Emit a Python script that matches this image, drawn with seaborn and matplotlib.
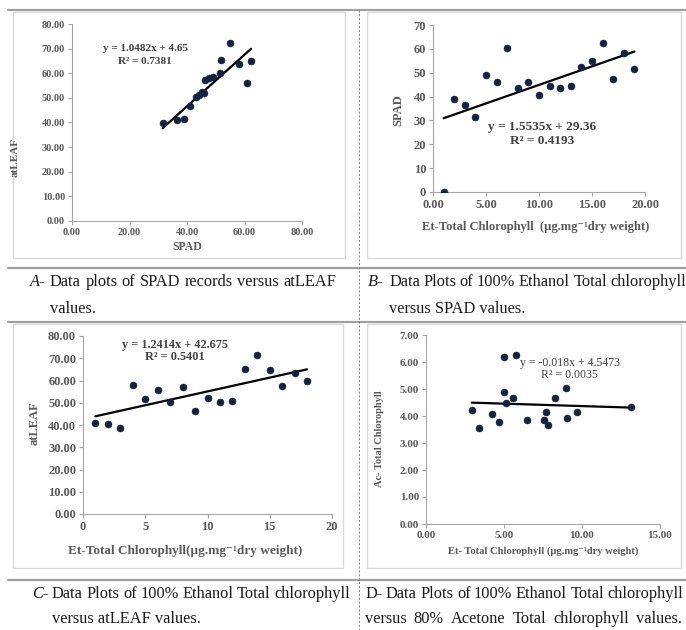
"""
Four-panel chlorophyll meter comparison (SPAD, atLEAF, ethanol / acetone extracts)
Scatter plots with linear trendlines, laid out like a two-column document table.
"""

import matplotlib
matplotlib.use("Agg")
import matplotlib.pyplot as plt
import seaborn as sns
import numpy as np
from matplotlib.patches import Rectangle
from matplotlib.ticker import StrMethodFormatter, MultipleLocator

# ---------- DATA ----------
# A - SPAD vs atLEAF
spad_a = [31.5, 36.5, 39.1, 40.9, 43.2, 44.3, 45.2, 46.0, 46.3, 47.5, 49.0,
          51.6, 51.8, 55.1, 58.1, 60.9, 62.3]
atleaf_a = [39.6, 41.0, 41.5, 46.8, 50.4, 51.1, 52.5, 52.1, 57.2, 58.0, 58.6,
            59.9, 65.4, 72.1, 63.6, 56.1, 65.0]
fit_a = (1.0482, 4.65)
eq_a = ["y = 1.0482x + 4.65", "R² = 0.7381"]

# B - Et total chlorophyll vs SPAD
et_b = [1, 2, 3, 4, 5, 6, 7, 8, 9, 10, 11, 12, 13, 14, 15, 16, 17, 18, 19]
spad_b = [0.0, 38.8, 36.4, 31.5, 49.0, 46.2, 60.5, 43.4, 46.2, 40.6, 44.4,
          43.8, 44.4, 52.2, 54.9, 62.3, 47.5, 58.1, 51.6]
fit_b = (1.5535, 29.36)
eq_b = ["y = 1.5535x + 29.36", "R² = 0.4193"]

# C - Et total chlorophyll vs atLEAF
et_c = [1, 2, 3, 4, 5, 6, 7, 8, 9, 10, 11, 12, 13, 14, 15, 16, 17, 18]
atleaf_c = [40.7, 40.3, 38.8, 58.1, 51.7, 55.6, 50.3, 57.1, 46.3, 52.3, 50.3,
            50.8, 65.0, 71.5, 64.6, 57.5, 63.2, 59.6]
fit_c = (1.2414, 42.675)
eq_c = ["y = 1.2414x + 42.675", "R² = 0.5401"]

# D - Et total chlorophyll vs Ac total chlorophyll
et_d = [2.93, 3.42, 4.25, 4.68, 5.02, 5.02, 5.11, 5.58, 5.79, 6.45, 7.56,
        7.69, 7.84, 8.27, 8.97, 9.04, 9.66, 13.14]
ac_d = [4.23, 3.55, 4.07, 3.78, 6.17, 4.88, 4.47, 4.68, 6.26, 3.86, 3.87,
        4.15, 3.65, 4.68, 5.04, 3.91, 4.15, 4.35]
fit_d = (-0.018, 4.5473)
eq_d = ["y = -0.018x + 4.5473", "R² = 0.0035"]

captions = {
    "A": ("A-", "Data plots of SPAD records versus atLEAF", "values."),
    "B": ("B-", "Data Plots of 100% Ethanol Total chlorophyll", "versus SPAD values."),
    "C": ("C-", "Data Plots of 100% Ethanol Total chlorophyll", "versus atLEAF values."),
    "D": ("D-", "Data Plots of 100% Ethanol Total chlorophyll",
          "versus 80% Acetone Total chlorophyll values."),
}

# ---------- STYLE ----------
sns.set_style("white")
plt.rcParams["font.family"] = ["Liberation Serif", "DejaVu Serif"]

TXT = "#595959"
AXC = "#a6a6a6"
DOT = "#13233f"

W, H = 686, 630
fig = plt.figure(figsize=(W / 100, H / 100), dpi=100)

# background axes in pixel units for the table lines, frames and captions
bg = fig.add_axes([0, 0, 1, 1], zorder=0)
bg.set_xlim(0, W)
bg.set_ylim(H, 0)
bg.axis("off")

for y in [10, 268, 322, 580]:
    bg.plot([8, W], [y, y], color="#a0a0a0", lw=1.6)
bg.plot([359, 359], [10, H], color="#7a7a7a", lw=0.7, ls=(0, (2, 2)))

for (x0, y0, x1, y1) in [(13, 12, 345, 258), (367, 12, 681, 258),
                         (13, 324, 343, 568), (367, 324, 681, 568)]:
    bg.add_patch(Rectangle((x0, y0), x1 - x0, y1 - y0, fill=False,
                           ec="#d9d9d9", lw=1))


def px_axes(x0, y0, x1, y1):
    return fig.add_axes([x0 / W, 1 - y1 / H, (x1 - x0) / W, (y1 - y0) / H], zorder=2)


def panel(ax, x, y, fit, eq, eq_xy, tick_size, eq_size, eq_weight, fmt_x, fmt_y):
    sns.scatterplot(x=x, y=y, ax=ax, color=DOT, s=26, edgecolor=DOT, linewidth=0.3, zorder=3)
    xs = np.array([min(x), max(x)])
    sns.lineplot(x=xs, y=fit[0] * xs + fit[1], ax=ax, color="black", lw=1.6, zorder=2)
    ax.text(eq_xy[0], eq_xy[1], eq[0], ha="center", va="center",
            fontsize=eq_size, color="#404040", fontweight=eq_weight)
    ax.text(eq_xy[0], eq_xy[2], eq[1], ha="center", va="center",
            fontsize=eq_size, color="#404040", fontweight=eq_weight)
    sns.despine(ax=ax)
    ax.set_facecolor("none")
    for s in ["left", "bottom"]:
        ax.spines[s].set_color(AXC)
        ax.spines[s].set_linewidth(0.8)
    ax.tick_params(direction="out", length=3, width=0.8, color=AXC,
                   labelsize=tick_size, labelcolor=TXT, pad=2,
                   bottom=True, left=True)
    ax.xaxis.set_major_formatter(StrMethodFormatter(fmt_x))
    ax.yaxis.set_major_formatter(StrMethodFormatter(fmt_y))


def bold_ticks(ax):
    plt.setp(ax.get_xticklabels() + ax.get_yticklabels(), fontweight="bold")


# A
ax = px_axes(72, 24, 302, 221)
panel(ax, spad_a, atleaf_a, fit_a, eq_a, (25.5, 70.1, 64.7), 7.5, 8, "bold", "{x:.2f}", "{x:.2f}")
ax.set_xlim(0, 80); ax.set_ylim(0, 80)
ax.xaxis.set_major_locator(MultipleLocator(20)); ax.yaxis.set_major_locator(MultipleLocator(10))
ax.set_xlabel("SPAD", fontsize=8.5, color=TXT, va="center", fontweight="bold")
ax.set_ylabel("atLEAF", fontsize=8, color=TXT, va="center", fontweight="bold")
ax.xaxis.set_label_coords(0.5, -0.13)
ax.yaxis.set_label_coords(-0.246, 0.324)
bold_ticks(ax)

# B
ax = px_axes(433, 25, 645, 192)
panel(ax, et_b, spad_b, fit_b, eq_b, (10.3, 27.3, 21.4), 9, 9.5, "bold", "{x:.2f}", "{x:.0f}")
ax.set_xlim(0, 20); ax.set_ylim(0, 70)
ax.xaxis.set_major_locator(MultipleLocator(5)); ax.yaxis.set_major_locator(MultipleLocator(10))
ax.set_xlabel("Et-Total Chlorophyll  (µg.mg⁻¹dry weight)", fontsize=9, color=TXT,
              va="center", fontweight="bold")
ax.set_ylabel("SPAD", fontsize=9, color=TXT, va="center", fontweight="bold")
ax.xaxis.set_label_coords(0.485, -0.21)
ax.yaxis.set_label_coords(-0.165, 0.49)
bold_ticks(ax)

# C
ax = px_axes(83, 336, 332, 514)
panel(ax, et_c, atleaf_c, fit_c, eq_c, (7.36, 76.0, 70.7), 9, 8.8, "bold", "{x:.0f}", "{x:.2f}")
ax.set_xlim(0, 20); ax.set_ylim(0, 80)
ax.xaxis.set_major_locator(MultipleLocator(5)); ax.yaxis.set_major_locator(MultipleLocator(10))
ax.set_xlabel("Et-Total Chlorophyll(µg.mg⁻¹dry weight)", fontsize=9.5, color=TXT,
              va="center", fontweight="bold")
ax.set_ylabel("atLEAF", fontsize=9, color=TXT, va="center", fontweight="bold")
ax.xaxis.set_label_coords(0.41, -0.21)
ax.yaxis.set_label_coords(-0.195, 0.51)
bold_ticks(ax)

# D
ax = px_axes(426, 335, 660, 524)
panel(ax, et_d, ac_d, fit_d, eq_d, (9.21, 5.95, 5.52), 8, 8.5, "normal", "{x:.2f}", "{x:.2f}")
ax.set_xlim(0, 15); ax.set_ylim(0, 7)
ax.xaxis.set_major_locator(MultipleLocator(5)); ax.yaxis.set_major_locator(MultipleLocator(1))
ax.set_xlabel("Et- Total Chlorophyll (µg.mg⁻¹dry weight)", fontsize=7.6, color=TXT,
              va="center", fontweight="bold")
ax.set_ylabel("Ac- Total Chlorophyll", fontsize=7.5, color=TXT, va="center", fontweight="bold")
ax.xaxis.set_label_coords(0.499, -0.145)
ax.yaxis.set_label_coords(-0.2, 0.454)
bold_ticks(ax)

# ---------- CAPTIONS ----------
CAP = dict(fontsize=11.8, color="#1a1a1a", fontweight="normal", va="baseline")
renderer = fig.canvas.get_renderer()


def justify(line, x0, x1, y, min_gap=3.5):
    texts = [bg.text(0, y, w, **CAP) for w in line.split()]
    widths = [t.get_window_extent(renderer).width for t in texts]
    gap = max(min_gap, (x1 - x0 - sum(widths)) / (len(texts) - 1))
    x = x0
    for t, w in zip(texts, widths):
        t.set_x(x)
        x += w + gap


layout = {
    "A": (30, 50, 336, 50, 286, 313, True),
    "B": (368, 389, 682, 389, 286, 313, True),
    "C": (32, 52, 350, 52, 598, 623, True),
    "D": (365, 386, 682, 365, 598, 623, False),
}
for key, (px, lx0, lx1, l2x, b1, b2, ital) in layout.items():
    pre, line1, line2 = captions[key]
    bg.text(px, b1, pre, style="italic" if ital else "normal", **CAP)
    justify(line1, lx0, lx1, b1)
    if key == "D":
        justify(line2, l2x, lx1, b2)
    else:
        bg.text(l2x, b2, line2, **CAP)

plt.savefig("out.png", dpi=100)
plt.close()
